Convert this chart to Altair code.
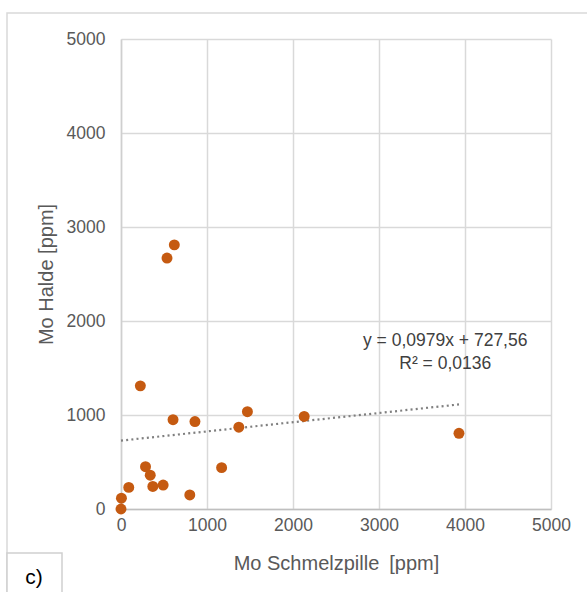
import altair as alt
import pandas as pd

# Mo concentrations (ppm): melt bead vs. heap
mo_schmelzpille = [0, 5, 90, 225, 285, 340, 370, 490, 535, 605, 620,
                   800, 860, 1170, 1370, 1470, 2130, 3930]
mo_halde = [0, 115, 230, 1310, 450, 360, 240, 255, 2670, 950, 2810,
            150, 930, 440, 870, 1035, 985, 805]

# Linear trendline as reported
slope = 0.0979
intercept = 727.56
trend_label = ["y = 0,0979x + 727,56", "R² = 0,0136"]
label_x = [3770, 3770]
label_y = [1790, 1545]

ticks = [0, 1000, 2000, 3000, 4000, 5000]

FONT = "Liberation Sans"
GREY_TEXT = "#595959"
GRID = "#d9d9d9"

points = pd.DataFrame({"x": mo_schmelzpille, "y": mo_halde})
x_end = max(mo_schmelzpille)
trend = pd.DataFrame({"x": [0, x_end],
                      "y": [intercept, intercept + slope * x_end]})
labels = pd.DataFrame({"x": label_x, "y": label_y, "t": trend_label})

xscale = alt.Scale(domain=[0, 5000], nice=False)
yscale = alt.Scale(domain=[0, 5000], nice=False)

x_axis = alt.Axis(values=ticks, format="d", title="Mo Schmelzpille\u2002[ppm]",
                  grid=True, gridColor=GRID, gridWidth=1.5, ticks=False,
                  domainColor="#bfbfbf", domainWidth=1.5,
                  labelFlush=False, labelOverlap=False,
                  labelFont=FONT, labelFontSize=17.5, labelColor=GREY_TEXT,
                  labelPadding=7, titleFont=FONT, titleFontSize=20,
                  titleFontWeight="normal", titleColor=GREY_TEXT,
                  titlePadding=20)
y_axis = alt.Axis(values=ticks, format="d", title="Mo Halde [ppm]",
                  grid=True, gridColor=GRID, gridWidth=1.5, ticks=False,
                  domainColor="#cfcfcf", domainWidth=1.5,
                  labelFlush=False, labelOverlap=False,
                  labelFont=FONT, labelFontSize=17.5, labelColor=GREY_TEXT,
                  labelPadding=16, titleFont=FONT, titleFontSize=20,
                  titleFontWeight="normal", titleColor=GREY_TEXT,
                  titlePadding=10)

# Outer frame and the panel tag box
frame = alt.Chart(pd.DataFrame({"a": [0]})).mark_rect(
    fill=None, stroke=GRID, strokeWidth=1.5
).encode(x=alt.value(-114), x2=alt.value(480),
         y=alt.value(-26), y2=alt.value(570))

tag_box = alt.Chart(pd.DataFrame({"a": [0]})).mark_rect(
    fill="white", stroke="#d0d0d0", strokeWidth=1.5
).encode(x=alt.value(-114), x2=alt.value(-59),
         y=alt.value(514), y2=alt.value(570))

tag = alt.Chart(pd.DataFrame({"t": ["c)"]})).mark_text(
    font=FONT, fontSize=21, color="#000000", align="center", baseline="middle"
).encode(x=alt.value(-87), y=alt.value(539), text="t:N")

trend_line = alt.Chart(trend).mark_line(
    color="#7f7f7f", strokeWidth=2.2, strokeDash=[2, 3.2]
).encode(x=alt.X("x:Q", scale=xscale, axis=x_axis),
         y=alt.Y("y:Q", scale=yscale, axis=y_axis))

dots = alt.Chart(points).mark_circle(
    size=120, color="#c55a11", opacity=1
).encode(x=alt.X("x:Q", scale=xscale), y=alt.Y("y:Q", scale=yscale))

trend_text = alt.Chart(labels).mark_text(
    font=FONT, fontSize=17.5, color="#404040", align="center", baseline="middle"
).encode(x=alt.X("x:Q", scale=xscale), y=alt.Y("y:Q", scale=yscale),
         text="t:N")

chart = alt.layer(frame, trend_line, dots, trend_text, tag_box, tag).properties(
    width=430, height=470,
    autosize=alt.AutoSizeParams(type="none"),
    padding={"left": 121, "top": 39, "right": 36, "bottom": 83},
    background="white",
).configure_view(stroke=None)

chart.save("out.html", embed_options={"renderer": "svg", "actions": False})
